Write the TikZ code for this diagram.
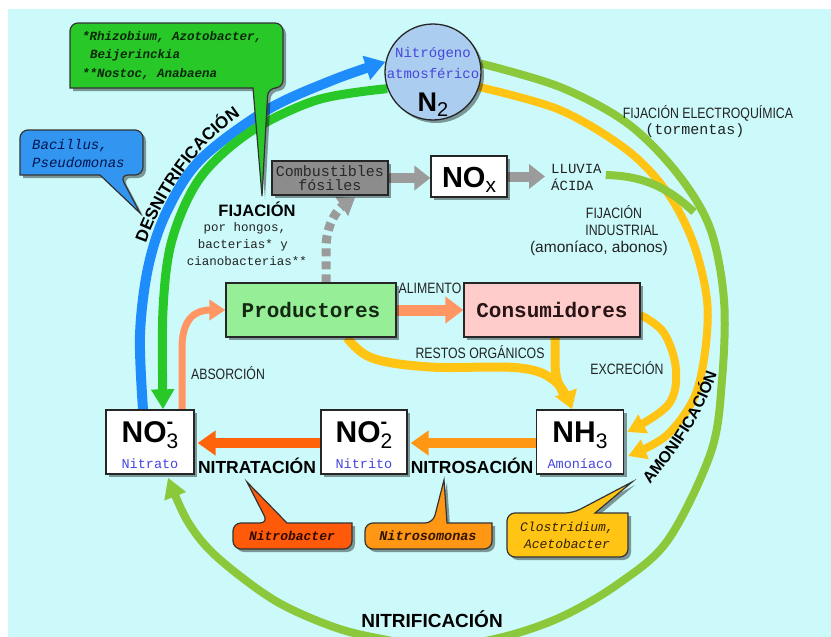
\documentclass[tikz,border=0pt]{standalone}
\usepackage{fontspec}
\setmainfont{Liberation Sans}
\newfontfamily\monof{Liberation Mono}
\newfontfamily\narrowf[FakeStretch=0.82]{Liberation Sans}
\usetikzlibrary{arrows.meta,shadows,calc,decorations.text}
\pgfdeclarelayer{back}
\pgfdeclarelayer{flows}
\pgfsetlayers{back,flows,main}
\newcommand\fsz[1]{\fontsize{#1}{#1}\selectfont}
\definecolor{cBg}{RGB}{204,250,250}
\definecolor{cBlue}{RGB}{30,140,250}
\definecolor{cGreenI}{RGB}{40,200,40}
\definecolor{cGreenO}{RGB}{140,200,60}
\definecolor{cYellow}{RGB}{255,196,20}
\definecolor{cSalmon}{RGB}{255,150,100}
\definecolor{cOrangeD}{RGB}{255,100,10}
\definecolor{cOrangeM}{RGB}{255,150,20}
\definecolor{cGray}{RGB}{155,155,155}
\definecolor{cProd}{RGB}{150,238,150}
\definecolor{cCons}{RGB}{255,204,204}
\definecolor{cNtwo}{RGB}{170,205,240}
\definecolor{cComb}{RGB}{140,140,140}
\definecolor{cTxtBlue}{RGB}{70,70,220}
\definecolor{cText}{RGB}{34,34,34}
\definecolor{cCallG}{RGB}{40,200,40}
\definecolor{cCallB}{RGB}{50,150,240}
\definecolor{cCallNb}{RGB}{255,90,10}
\definecolor{cCallNs}{RGB}{255,150,20}
\definecolor{cCallCl}{RGB}{255,196,20}
\tikzset{
  box/.style={draw=black!85, line width=1.3pt, inner sep=0pt,
    drop shadow={shadow xshift=3pt, shadow yshift=-3pt, fill=black, opacity=0.4}},
  callout/.style={draw=black!80, line width=1.2pt, rounded corners=8pt,
    drop shadow={shadow xshift=3pt, shadow yshift=-3pt, fill=black, opacity=0.4}},
  lab/.style={font=\narrowf\fsz{15}, text=cText, inner sep=0pt},
  boldlab/.style={font=\bfseries\fsz{17.5}, text=black, inner sep=0pt},
  monolab/.style={font=\monof\fsz{14}, text=cText, inner sep=0pt},
  calltext/.style={font=\monof\bfseries\itshape\fsz{13}, inner sep=0pt},
  subname/.style={font=\monof\fsz{13.5}, text=cTxtBlue, inner sep=0pt, anchor=base},
  flow/.style={line cap=butt, line join=round},
}
\begin{document}
\begin{tikzpicture}[x=1pt,y=-1pt]
\useasboundingbox (0,0) rectangle (831,637);
\begin{pgfonlayer}{back}
\fill[white] (0,0) rectangle (831,637);
\fill[cBg] (8,9) rectangle (831,637);
\end{pgfonlayer}

% ---------- main nodes ----------
\node[box, circle, fill=cNtwo, minimum size=96pt] (n2) at (433,72) {};
\node[box, fill=cComb, minimum width=116pt, minimum height=34pt] (comb) at (330,178) {};
\node[box, fill=white, minimum width=76pt, minimum height=41pt] (nox) at (469,176.5) {};
\node[box, fill=cProd, minimum width=170pt, minimum height=54pt, text={rgb,255:red,20;green,40;blue,20}] (prod) at (311,310) {\monof\bfseries\fsz{21}Productores};
\node[box, fill=cCons, minimum width=176pt, minimum height=54pt, text={rgb,255:red,40;green,20;blue,20}] (cons) at (552,310) {\monof\bfseries\fsz{21}Consumidores};
\node[box, fill=white, minimum width=88pt, minimum height=64pt] (no3) at (150,442) {};
\node[box, fill=white, minimum width=86pt, minimum height=64pt] (no2) at (364,442) {};
\node[box, fill=white, minimum width=87pt, minimum height=64pt] (nh3) at (580,442) {};
\node[monolab, anchor=west, align=left, font=\monof\fontsize{14}{17}\selectfont] (lluvia) at (551,177) {LLUVIA\\ÁCIDA};

% ---------- node texts ----------
\node[subname] at ([yshift=15pt]n2.center) {\fsz{14}Nitrógeno};
\node[subname] at ([yshift=-6pt]n2.center) {\fsz{14}atmosférico};
\node[anchor=base, inner sep=0pt] at ([yshift=-39pt]n2.center) {\bfseries\fsz{27}N\raisebox{-5pt}{\mdseries\fsz{20}2}};
\node[inner sep=0pt, align=center, text={rgb,255:red,40;green,40;blue,40}, font=\monof\fontsize{15}{14.5}\selectfont] at (comb.center) {Combustibles\\fósiles};
\node[anchor=base, inner sep=0pt] at ([yshift=-10.5pt]nox.center) {\bfseries\fsz{29}NO\raisebox{-5pt}{\mdseries\fsz{21}x}};
\node[anchor=base, inner sep=0pt] at (no3.center) {\bfseries\fsz{30}NO\rlap{\raisebox{14pt}{\fsz{20}-}}\raisebox{-6pt}{\mdseries\fsz{21}3}};
\node[subname] at ([yshift=-26pt]no3.center) {Nitrato};
\node[anchor=base, inner sep=0pt] at (no2.center) {\bfseries\fsz{30}NO\rlap{\raisebox{14pt}{\fsz{20}-}}\raisebox{-6pt}{\mdseries\fsz{21}2}};
\node[subname] at ([yshift=-26pt]no2.center) {Nitrito};
\node[anchor=base, inner sep=0pt] at (nh3.center) {\bfseries\fsz{30}NH\raisebox{-6pt}{\mdseries\fsz{21}3}};
\node[subname] at ([yshift=-26pt]nh3.center) {Amoníaco};

% ---------- labels ----------
\node[lab] at (430,288) {ALIMENTO};
\node[lab] at (480,352) {RESTOS ORGÁNICOS};
\node[lab] at (627,368) {EXCRECIÓN};
\node[lab] at (228,373) {ABSORCIÓN};
\node[lab] at (708,113) {FIJACIÓN ELECTROQUÍMICA};
\node[monolab, font=\monof\fsz{15}] at (695,131) {(tormentas)};
\node[lab] at (614,212) {FIJACIÓN};
\node[lab] at (622,230) {INDUSTRIAL};
\node[lab, font=\fsz{15.5}] at (599,248) {(amoníaco, abonos)};
\node[boldlab, font=\bfseries\fsz{16.5}, anchor=base] at (257,216) {FIJACIÓN};
\node[monolab, font=\monof\fsz{12.5}, anchor=base] at (245,231) {por hongos,};
\node[monolab, font=\monof\fsz{12.5}, anchor=base] at (243,248) {bacterias* y};
\node[monolab, font=\monof\fsz{12.5}, anchor=base] at (247,265) {cianobacterias**};
\node[boldlab, anchor=base] at (257,473) {NITRATACIÓN};
\node[boldlab, anchor=base] at (472,473) {NITROSACIÓN};
\node[boldlab, font=\bfseries\fsz{19}, anchor=base] at (432,627) {NITRIFICACIÓN};
\begin{scope}[transform canvas={shift={(190,180)}}]
\path[decorate, decoration={text along path, text align=center,
    text={|\bfseries\fsz{17}|DESNITRIFICACIÓN}}]
  (-51,88) .. controls (-40,35) and (5,-45) .. (73,-77);
\end{scope}
\begin{scope}[transform canvas={shift={(680,430)}}]
\path[decorate, decoration={text along path, text align=center,
    text={|\bfseries\fsz{16}|AMONIFICACIÓN}}]
  (-36,62) .. controls (-5,25) and (25,-15) .. (40,-66);
\end{scope}

% ---------- callouts ----------
\draw[callout, fill=cCallG] (150,23) -- (283,23) -- (283,88) -- (268,88) [sharp corners] -- (262,196) -- (253,88) -- (70,88) [rounded corners=8pt] -- (70,23) -- cycle;
\node[calltext, anchor=north west, align=left, text={rgb,255:red,10;green,40;blue,10}, font=\monof\bfseries\itshape\fontsize{12.5}{18.5}\selectfont] (gtext) at (82,31) {*Rhizobium, Azotobacter,\\\hspace*{8pt}Beijerinckia\\**Nostoc, Anabaena};

\draw[callout, fill=cCallB] (80,130) -- (143,130) -- (143,175) -- (120,175) [sharp corners] -- (140,213) -- (100,175) -- (20,175) [rounded corners=8pt] -- (20,130) -- cycle;
\node[calltext, anchor=north west, align=left, text={rgb,255:red,0;green,20;blue,80}, font=\monof\itshape\fontsize{14}{18}\selectfont] (btext) at (32,139) {Bacillus,\\Pseudomonas};

\draw[callout, fill=cCallNb] (300,549) -- (233,549) -- (233,523) -- (268,523) [sharp corners] -- (247,482) -- (287,523) -- (352,523) [rounded corners=8pt] -- (352,549) -- cycle;
\node[calltext, text={rgb,255:red,50;green,10;blue,0}] (nbtext) at (292,536) {Nitrobacter};

\draw[callout, fill=cCallNs] (430,549) -- (365,549) -- (365,523) -- (433,523) [sharp corners] -- (444,480) -- (447,523) -- (492,523) [rounded corners=8pt] -- (492,549) -- cycle;
\node[calltext, text={rgb,255:red,50;green,20;blue,0}, font=\monof\bfseries\itshape\fsz{13.5}] (nstext) at (428,536) {Nitrosomonas};

\draw[callout, fill=cCallCl] (560,557) -- (507,557) -- (507,513) -- (573,513) [sharp corners] -- (632,482) -- (595,513) -- (628,513) [rounded corners=8pt] -- (628,557) -- cycle;
\node[calltext, align=center, text={rgb,255:red,50;green,35;blue,0}, font=\monof\itshape\fontsize{13}{17}\selectfont] (cltext) at (567,535) {Clostridium,\\Acetobacter};

% ---------- flows ----------
\begin{pgfonlayer}{flows}
\begin{scope}
\clip (0,0) rectangle (831,637);
\draw[flow, cGreenO, line width=8pt, -{Triangle[width=22pt,length=20pt]}]
  plot[smooth, tension=0.55] coordinates {(n2.10) (560,87) (627,123) (677,173) (710,228) (724,300) (722,380) (711,452) (668,540) (618,584) (561,617) (503,637) (440,647) (377,638) (331,626) (274,600) (217,557) (188,522) ([xshift=18pt,yshift=-3pt]no3.south)};
\draw[flow, cYellow, line width=8pt, -{Triangle[width=20pt,length=18pt]}]
  plot[smooth, tension=0.55] coordinates {(n2.-18) (560,110) (627,150) (667,192) (693,242) (707,300) (705,352) (694,398) (666,436) ([xshift=4pt,yshift=-14pt]nh3.east)};
\draw[flow, cGreenO, line width=8pt] ([xshift=4pt,yshift=2pt]lluvia.east) .. controls (645,176) and (668,188) .. (694,212);
\draw[flow, cBlue, line width=10pt, -{Triangle[width=24pt,length=20pt]}]
  plot[smooth, tension=0.55] coordinates {([xshift=-7pt]no3.north) (140,335) (148,268) (166,213) (200,160) (267,110) (333,80) (n2.168)};
\draw[flow, cGreenI, line width=9pt, -{Triangle[width=22pt,length=20pt]}]
  plot[smooth, tension=0.55] coordinates {(n2.200) (317,100) (250,132) (200,178) (172,240) (163,310) ([xshift=13pt]no3.north)};
\draw[flow, cSalmon, line width=7pt, -{Triangle[width=20pt,length=16pt]}]
  ([xshift=32pt]no3.north) -- (182,348) .. controls (182,320) and (194,310) .. (prod.west);
\draw[flow, cSalmon, line width=11pt, -{Triangle[width=26pt,length=18pt]}] (prod.east) -- (cons.west);
\draw[flow, cYellow, line width=9pt, -{Triangle[width=22pt,length=18pt]}]
  plot[smooth, tension=0.6] coordinates {([xshift=36pt]prod.south) (372,358) (430,367) (520,368) (556,382) ([xshift=-8pt]nh3.north)};
\draw[flow, cYellow, line width=9pt] ([xshift=3pt]cons.south) -- (555,362) .. controls (555,378) and (559,386) .. (565,396);
\draw[flow, cYellow, line width=8pt, -{Triangle[width=20pt,length=18pt]}]
  plot[smooth, tension=0.6] coordinates {([yshift=-5pt]cons.east) (664,333) (676,370) (668,405) ([xshift=3pt,yshift=10pt]nh3.east)};
\draw[flow, cGray, line width=10pt, -{Triangle[width=24pt,length=16pt]}] (comb.east) -- (comb.east -| nox.west);
\draw[flow, cGray, line width=10pt, -{Triangle[width=24pt,length=16pt]}] (nox.east) -- ([xshift=-6pt]nox.east -| lluvia.west);
\draw[flow, cGray, line width=9pt, dash pattern=on 8pt off 5pt, -{Triangle[width=22pt,length=16pt]}]
  ([xshift=15pt]prod.north) -- (326,248) .. controls (326,224) and (338,209) .. ([xshift=25pt,yshift=-2pt]comb.south);
\draw[flow, cOrangeD, line width=10pt, -{Triangle[width=24pt,length=18pt]}] ([yshift=-1pt]no2.west) -- ([xshift=3pt,yshift=-1pt]no3.east);
\draw[flow, cOrangeM, line width=10pt, -{Triangle[width=24pt,length=18pt]}] ([yshift=-1pt]nh3.west) -- ([xshift=3pt,yshift=-1pt]no2.east);
\end{scope}
\end{pgfonlayer}
\end{tikzpicture}
\end{document}
